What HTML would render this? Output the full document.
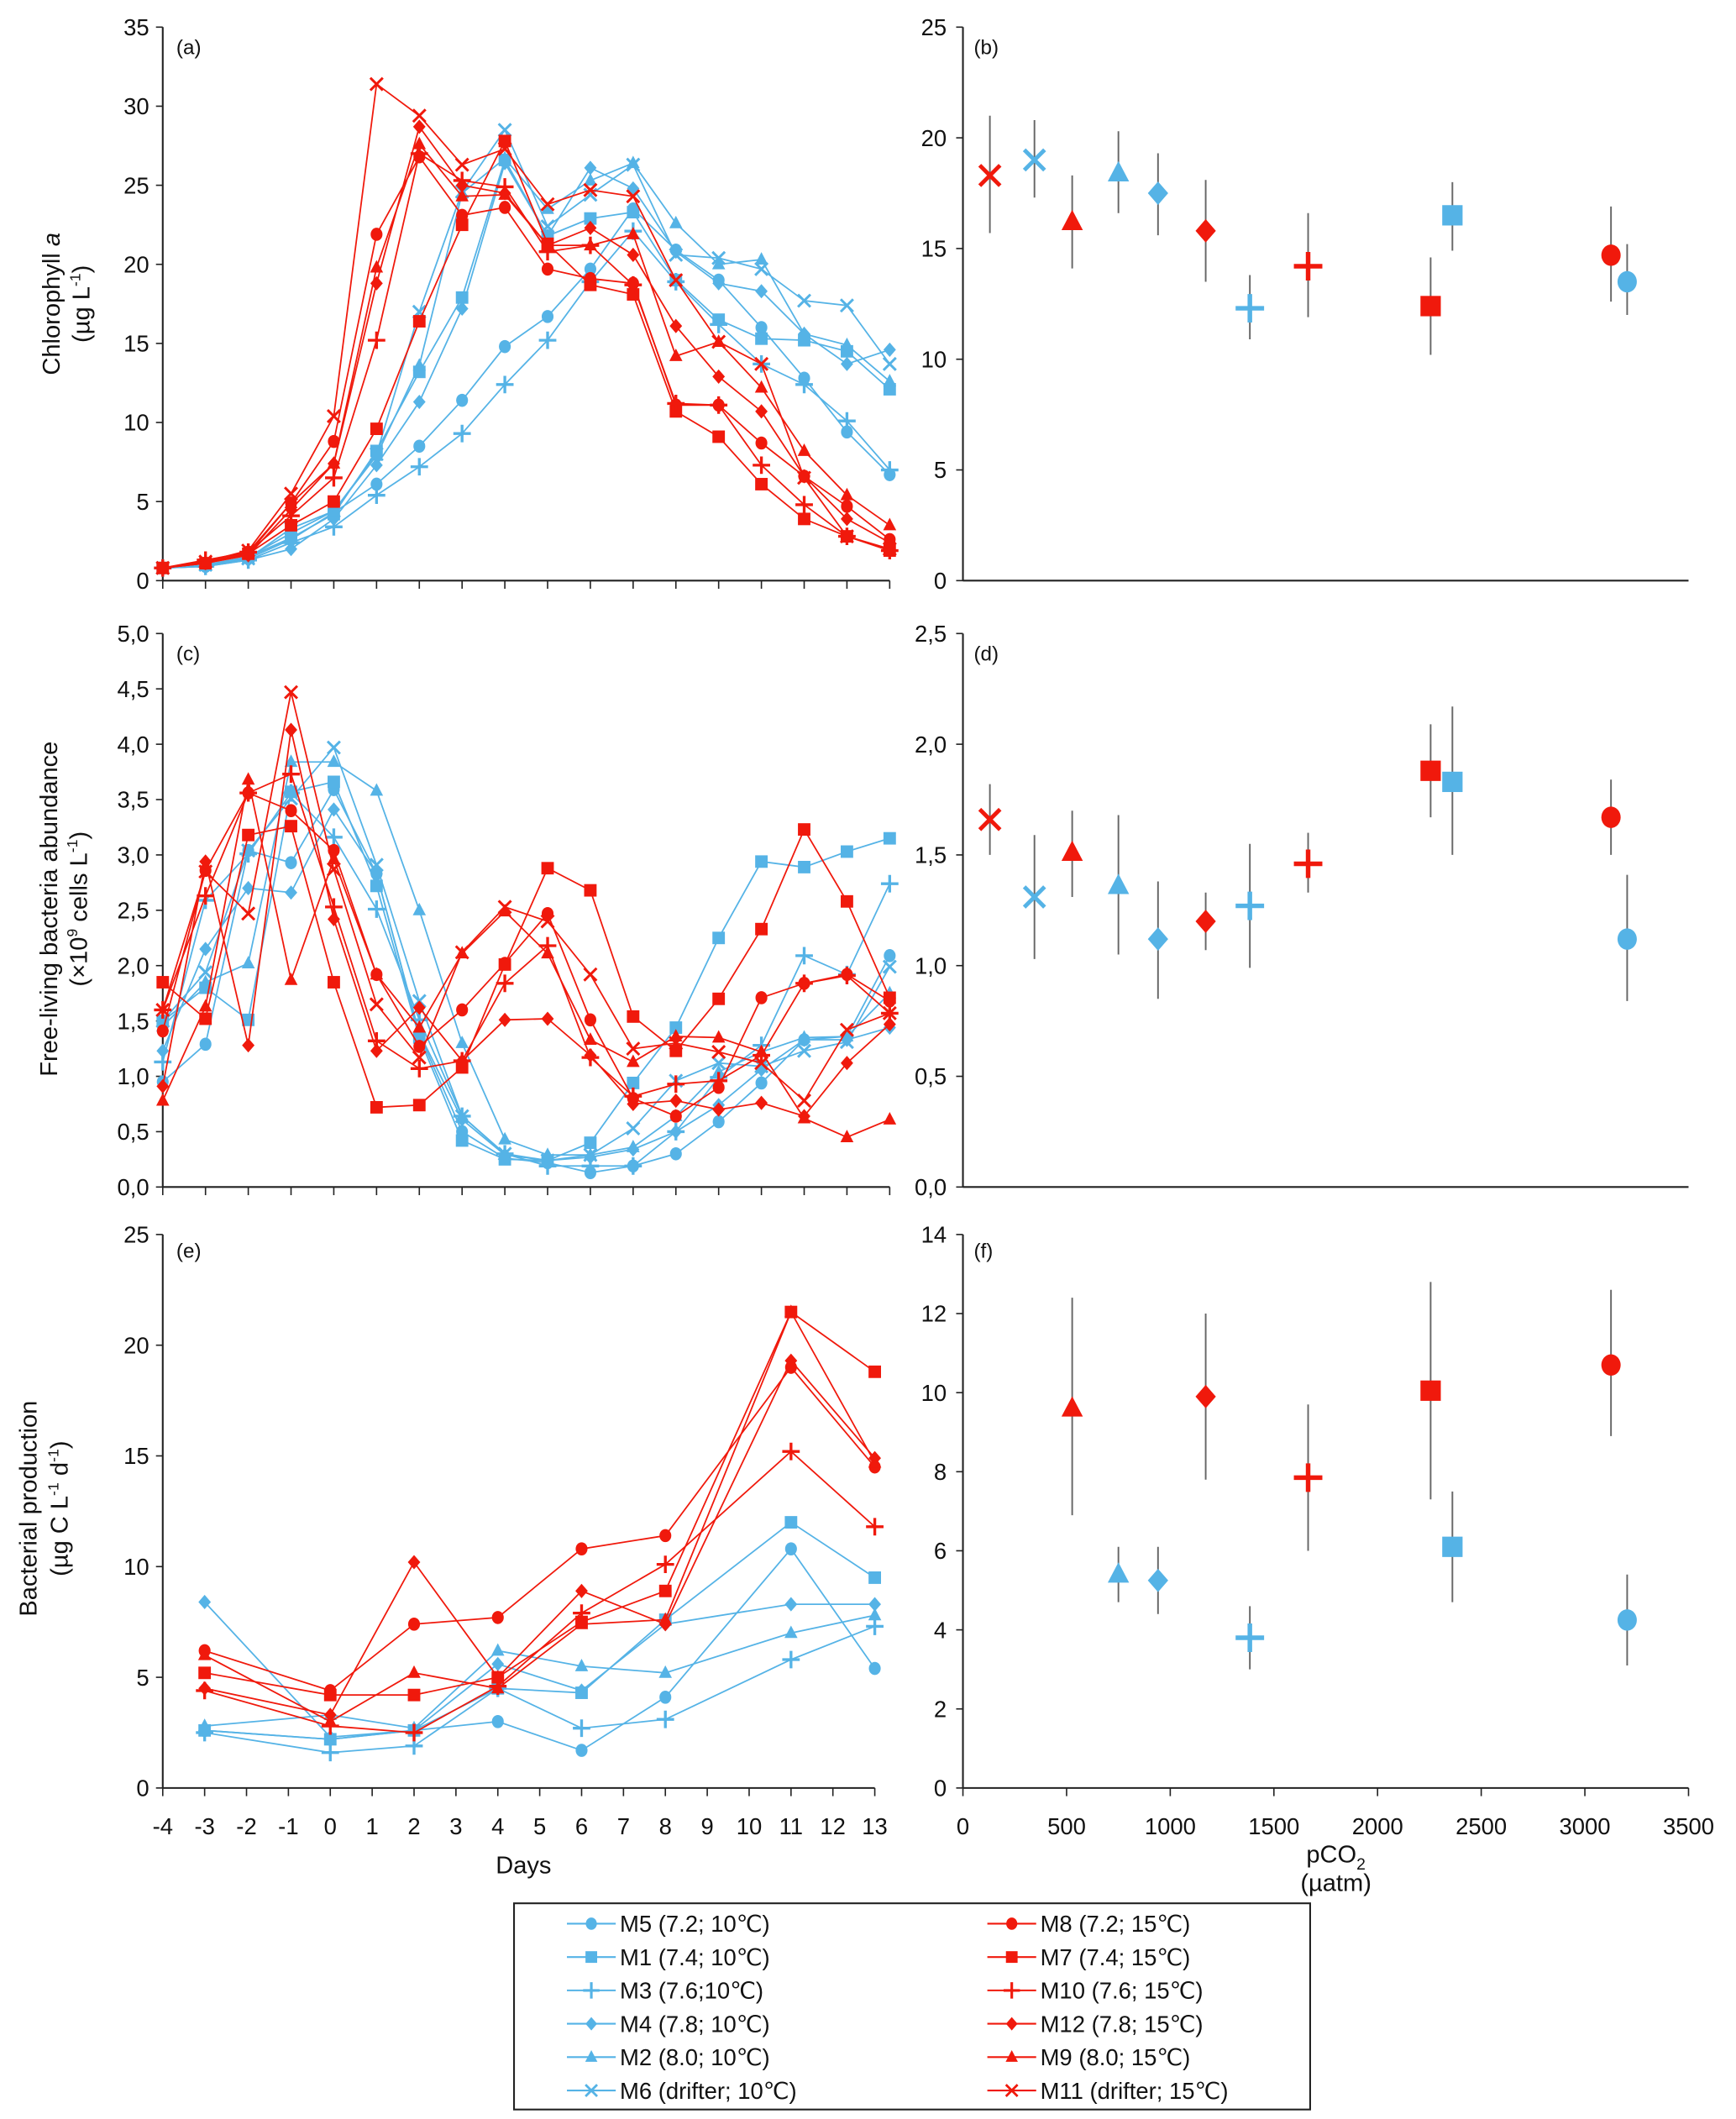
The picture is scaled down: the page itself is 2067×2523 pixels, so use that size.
<!DOCTYPE html>
<html><head><meta charset="utf-8"><style>
html,body{margin:0;padding:0;background:#fff}
svg{display:block}
text{font-family:"Liberation Sans",sans-serif;fill:#111}
</style></head><body>
<svg id="chart" xmlns="http://www.w3.org/2000/svg" width="2067" height="2523" viewBox="0 0 1280 1562" preserveAspectRatio="none">
<g id="root"></g>
</svg>
<script>
// ---------- data ----------
const days = [-4,-3,-2,-1,0,1,2,3,4,5,6,7,8,9,10,11,12,13];
const series = ['M5','M1','M3','M4','M2','M6','M8','M7','M10','M12','M9','M11'];
const labels = ['M5 (7.2; 10\u2103)','M1 (7.4; 10\u2103)','M3 (7.6;10\u2103)','M4 (7.8; 10\u2103)','M2 (8.0; 10\u2103)','M6 (drifter; 10\u2103)','M8 (7.2; 15\u2103)','M7 (7.4; 15\u2103)','M10 (7.6; 15\u2103)','M12 (7.8; 15\u2103)','M9 (8.0; 15\u2103)','M11 (drifter; 15\u2103)'];
// panel a: chlorophyll a
const chlM5 = [0.8,0.9,1.4,2.6,4.3,6.1,8.5,11.4,14.8,16.7,19.7,23.5,20.9,19.0,16.0,12.8,9.4,6.7];
const chlM1 = [0.8,1.0,1.5,2.7,4.2,8.2,13.2,17.9,26.6,21.8,22.9,23.3,19.0,16.5,15.3,15.2,14.5,12.1];
const chlM3 = [0.8,0.9,1.3,2.4,3.4,5.4,7.2,9.3,12.4,15.2,18.9,22.1,18.9,16.2,13.7,12.4,10.1,7.0];
const chlM4 = [0.8,0.9,1.3,2.0,3.9,7.3,11.3,17.2,26.4,21.8,26.1,24.8,20.8,18.8,18.3,15.6,13.7,14.6];
const chlM2 = [0.8,1.0,1.5,3.0,4.4,7.9,13.6,24.5,26.7,23.5,25.3,26.4,22.6,20.0,20.3,15.6,14.9,12.6];
const chlM6 = [0.8,1.0,1.4,3.3,4.4,8.0,17.0,24.6,28.5,22.4,24.4,26.3,20.6,20.4,19.7,17.7,17.4,13.7];
const chlM8 = [0.8,1.1,1.8,4.9,8.8,21.9,26.8,23.1,23.6,19.7,19.1,18.8,11.1,11.1,8.7,6.6,4.7,2.6];
const chlM7 = [0.8,1.1,1.7,3.5,5.0,9.6,16.4,22.5,27.8,21.3,18.7,18.1,10.7,9.1,6.1,3.9,2.8,1.9];
const chlM10 = [0.8,1.3,1.8,4.1,6.5,15.2,27.0,25.3,24.9,20.8,21.2,18.7,11.2,11.1,7.3,4.8,2.8,1.9];
const chlM12 = [0.8,1.1,1.6,4.5,7.4,18.8,28.7,25.0,24.5,21.2,22.3,20.6,16.1,12.9,10.7,6.6,3.9,2.4];
const chlM9 = [0.8,1.2,1.7,4.9,7.4,19.8,27.6,24.3,24.4,21.2,21.2,21.9,14.2,15.1,12.2,8.2,5.4,3.5];
const chlM11 = [0.8,1.2,1.9,5.5,10.4,31.4,29.4,26.3,27.3,23.8,24.7,24.3,19.0,15.1,13.7,6.5,2.8,2.0];
// panel c: bacteria abundance
const fbM5 = [0.95,1.29,3.04,2.93,3.59,2.83,1.38,0.50,0.26,0.22,0.13,0.19,0.30,0.59,0.94,1.33,1.36,2.09];
const fbM1 = [1.50,1.80,1.51,3.57,3.66,2.72,1.35,0.42,0.25,0.24,0.40,0.94,1.44,2.25,2.94,2.89,3.03,3.15];
const fbM3 = [1.13,2.59,3.01,3.56,3.16,2.51,1.51,0.64,0.30,0.19,0.19,0.19,0.50,0.99,1.28,2.09,1.92,2.74];
const fbM4 = [1.23,2.15,2.70,2.66,3.41,2.83,1.39,0.61,0.29,0.24,0.27,0.34,0.50,0.74,1.06,1.33,1.33,1.44];
const fbM2 = [1.45,1.85,2.02,3.84,3.84,3.58,2.50,1.30,0.43,0.29,0.29,0.36,0.64,1.04,1.22,1.35,1.36,1.75];
const fbM6 = [1.50,1.94,3.04,3.51,3.97,2.91,1.68,0.64,0.30,0.24,0.29,0.53,0.96,1.12,1.09,1.23,1.31,1.99];
const fbM8 = [1.41,2.86,3.56,3.40,3.04,1.92,1.27,1.60,2.02,2.47,1.51,0.80,0.64,0.90,1.71,1.84,1.92,1.68];
const fbM7 = [1.85,1.52,3.18,3.26,1.85,0.72,0.74,1.08,2.01,2.88,2.68,1.54,1.23,1.70,2.33,3.23,2.58,1.71];
const fbM10 = [1.60,2.63,3.56,3.73,2.53,1.32,1.07,1.14,1.84,2.18,1.17,0.82,0.93,0.96,1.19,1.84,1.91,1.57];
const fbM12 = [0.91,2.94,1.28,4.13,2.42,1.23,1.62,1.14,1.51,1.52,1.19,0.75,0.78,0.70,0.76,0.64,1.12,1.47];
const fbM9 = [0.78,1.63,3.68,1.87,2.96,1.92,1.44,2.11,2.49,2.11,1.33,1.13,1.36,1.35,1.22,0.62,0.45,0.61];
const fbM11 = [1.60,2.85,2.47,4.47,2.87,1.65,1.17,2.12,2.53,2.40,1.92,1.25,1.30,1.22,1.12,0.78,1.42,1.57];
// panel e: bacterial production
const bpDays = [-3,0,2,4,6,8,11,13];
const bpM5 = [2.6,2.2,2.6,3.0,1.7,4.1,10.8,5.4];
const bpM1 = [2.6,2.2,2.6,4.5,4.3,7.6,12.0,9.5];
const bpM3 = [2.5,1.6,1.9,4.5,2.7,3.1,5.8,7.3];
const bpM4 = [8.4,2.3,2.6,5.6,4.4,7.4,8.3,8.3];
const bpM2 = [2.8,3.3,2.7,6.2,5.5,5.2,7.0,7.8];
const bpM8 = [6.2,4.4,7.4,7.7,10.8,11.4,19.0,14.5];
const bpM7 = [5.2,4.2,4.2,5.0,7.5,8.9,21.5,18.8];
const bpM10 = [4.4,2.8,2.5,4.6,7.9,10.1,15.2,11.8];
const bpM12 = [4.5,3.3,10.2,5.0,8.9,7.4,19.3,14.9];
const bpM9 = [6.0,3.0,5.2,4.5,7.4,7.6,21.5,14.7];
// right panels: pCO2 vs means
const pco2 = {M5:3204,M1:2361,M3:1384,M4:941,M2:750,M6:345,M8:3126,M7:2256,M10:1665,M12:1171,M9:527,M11:130};
const bMean = {M5:13.5,M1:16.5,M3:12.3,M4:17.5,M2:18.4,M6:19.0,M8:14.7,M7:12.4,M10:14.2,M12:15.8,M9:16.2,M11:18.3};
const bLo = {M5:12.0,M1:14.9,M3:10.9,M4:15.6,M2:16.6,M6:17.3,M8:12.6,M7:10.2,M10:11.9,M12:13.5,M9:14.1,M11:15.7};
const bHi = {M5:15.2,M1:18.0,M3:13.8,M4:19.3,M2:20.3,M6:20.8,M8:16.9,M7:14.6,M10:16.6,M12:18.1,M9:18.3,M11:21.0};
const dMean = {M5:1.12,M1:1.83,M3:1.27,M4:1.12,M2:1.36,M6:1.31,M8:1.67,M7:1.88,M10:1.46,M12:1.20,M9:1.51,M11:1.66};
const dLo = {M5:0.84,M1:1.50,M3:0.99,M4:0.85,M2:1.05,M6:1.03,M8:1.50,M7:1.67,M10:1.33,M12:1.07,M9:1.31,M11:1.50};
const dHi = {M5:1.41,M1:2.17,M3:1.55,M4:1.38,M2:1.68,M6:1.59,M8:1.84,M7:2.09,M10:1.60,M12:1.33,M9:1.70,M11:1.82};
const fMean = {M5:4.25,M1:6.1,M3:3.8,M4:5.25,M2:5.4,M8:10.7,M7:10.05,M10:7.85,M12:9.9,M9:9.6};
const fLo = {M5:3.1,M1:4.7,M3:3.0,M4:4.4,M2:4.7,M8:8.9,M7:7.3,M10:6.0,M12:7.8,M9:6.9};
const fHi = {M5:5.4,M1:7.5,M3:4.6,M4:6.1,M2:6.1,M8:12.6,M7:12.8,M10:9.7,M12:12.0,M9:12.4};
const yTicksA = ['0','5','10','15','20','25','30','35'];
const yTicksB = ['0','5','10','15','20','25'];
const yTicksC = ['0,0','0,5','1,0','1,5','2,0','2,5','3,0','3,5','4,0','4,5','5,0'];
const yTicksD = ['0,0','0,5','1,0','1,5','2,0','2,5'];
const yTicksE = ['0','5','10','15','20','25'];
const yTicksF = ['0','2','4','6','8','10','12','14'];
const xTicksP = ['0','500','1000','1500','2000','2500','3000','3500'];

// ---------- drawing ----------
const NS='http://www.w3.org/2000/svg';
const root=document.getElementById('root');
const BLUE='#55b3e6', RED='#f0190c';
const shapeOf={M5:'circle',M1:'square',M3:'plus',M4:'diamond',M2:'triangle',M6:'x',M8:'circle',M7:'square',M10:'plus',M12:'diamond',M9:'triangle',M11:'x'};
const colorOf=s=>['M5','M1','M3','M4','M2','M6'].includes(s)?BLUE:RED;
function el(tag,attrs,parent){const e=document.createElementNS(NS,tag);for(const k in attrs)e.setAttribute(k,attrs[k]);(parent||root).appendChild(e);return e;}
function txt(x,y,s,attrs,parent){const t=el('text',Object.assign({x:x,y:y},attrs||{}),parent);t.textContent=s;return t;}
function marker(g,shape,x,y,r,c){
  let m;
  if(shape==='circle') m=el('ellipse',{cx:x,cy:y,rx:r*0.95,ry:r*1.05,fill:c},g);
  else if(shape==='square') m=el('rect',{x:x-r,y:y-r,width:2*r,height:2*r,fill:c},g);
  else if(shape==='diamond') m=el('polygon',{points:`${x},${y-r*1.15} ${x+r},${y} ${x},${y+r*1.15} ${x-r},${y}`,fill:c},g);
  else if(shape==='triangle') m=el('polygon',{points:`${x},${y-r*1.2} ${x+r*1.05},${y+r*0.8} ${x-r*1.05},${y+r*0.8}`,fill:c},g);
  else if(shape==='plus') m=el('path',{d:`M${x-r*1.4},${y}H${x+r*1.4}M${x},${y-r*1.4}V${y+r*1.4}`,stroke:c,'stroke-width':r*0.45,fill:'none'},g);
  else m=el('path',{d:`M${x-r},${y-r}L${x+r},${y+r}M${x-r},${y+r}L${x+r},${y-r}`,stroke:c,'stroke-width':r*0.4,fill:'none'},g);
  
  
  return m;
}
function axes(name,x0,x1,y0,y1,ticks,yMax,labelX,hasXTicks,nX){
  const g=el('g',{});
  
  
  el('line',{x1:x0,y1:y0,x2:x0,y2:y1,stroke:'#222','stroke-width':1.3},g);
  el('line',{x1:x0,y1:y1,x2:x1,y2:y1,stroke:'#222','stroke-width':1.3},g);
  ticks.forEach((t,i)=>{const y=y1-(y1-y0)*i/(ticks.length-1);
    el('line',{x1:x0-5,y1:y,x2:x0,y2:y,stroke:'#222','stroke-width':1},g);
    const lt=txt(labelX,y+6,t,{'text-anchor':'end','font-size':17},g);
    
    
  });
  if(hasXTicks){for(let i=0;i<=nX;i++){const x=x0+(x1-x0)*i/nX;el('line',{x1:x,y1:y1,x2:x,y2:y1+6,stroke:'#222','stroke-width':1},g);}}
  return g;
}
// left panels
const L0=120;
function xL(d,x1){return L0+(d-days[0])*(x1-L0)/(days[days.length-1]-days[0]);}
function lineSeries(name,xs,vals,x1,y0,y1,yMax,shape,c,r){
  const g=el('g',{});
  
  
  const yy=v=>y1-(y1-y0)*v/yMax;
  el('polyline',{points:vals.map((v,i)=>xL(xs[i],x1)+','+yy(v)).join(' '),fill:'none',stroke:c,'stroke-width':1.1},g);
  vals.forEach((v,i)=>marker(g,shape,xL(xs[i],x1),yy(v),r,c));
}
axes('panel-a',120,656,20,428,yTicksA,35,110,true,17);
axes('panel-c',120,656,467,875,yTicksC,5,110,true,17);
axes('panel-e',120,645,910,1318,yTicksE,25,110,true,17);
const chl={M5:chlM5,M1:chlM1,M3:chlM3,M4:chlM4,M2:chlM2,M6:chlM6,M8:chlM8,M7:chlM7,M10:chlM10,M12:chlM12,M9:chlM9,M11:chlM11};
const fb={M5:fbM5,M1:fbM1,M3:fbM3,M4:fbM4,M2:fbM2,M6:fbM6,M8:fbM8,M7:fbM7,M10:fbM10,M12:fbM12,M9:fbM9,M11:fbM11};
const bp={M5:bpM5,M1:bpM1,M3:bpM3,M4:bpM4,M2:bpM2,M8:bpM8,M7:bpM7,M10:bpM10,M12:bpM12,M9:bpM9};
series.forEach(s=>lineSeries('chl-line-'+s.toLowerCase(),days,chl[s],656,20,428,35,shapeOf[s],colorOf(s),4.6));
series.forEach(s=>lineSeries('bact-line-'+s.toLowerCase(),days,fb[s],656,467,875,5,shapeOf[s],colorOf(s),4.6));
series.filter(s=>bp[s]).forEach(s=>lineSeries('bp-line-'+s.toLowerCase(),bpDays,bp[s],645,910,1318,25,shapeOf[s],colorOf(s),4.6));
days.forEach(d=>{const t=txt(xL(d,645),1352,String(d),{'text-anchor':'middle','font-size':17});
  
  });
// right panels
const R0=710,R1=1245;
const xR=p=>R0+p*(R1-R0)/3500;
axes('panel-b',R0,R1,20,428,yTicksB,25,698,false,7);
axes('panel-d',R0,R1,467,875,yTicksD,2.5,698,false,7);
axes('panel-f',R0,R1,910,1318,yTicksF,14,698,true,7);
xTicksP.forEach((t,i)=>{const l=txt(R0+(R1-R0)*i/7,1352,t,{'text-anchor':'middle','font-size':17});
  
  });
function scatter(name,mean,lo,hi,y0,y1,yMax){
  const yy=v=>y1-(y1-y0)*v/yMax;
  Object.keys(mean).forEach(s=>{
    const g=el('g',{});
    
    
    const x=xR(pco2[s]);
    el('line',{x1:x,y1:yy(lo[s]),x2:x,y2:yy(hi[s]),stroke:'#666','stroke-width':1.2},g);
    marker(g,shapeOf[s],x,yy(mean[s]),7.5,colorOf(s));
  });
}
scatter('chl-mean',bMean,bLo,bHi,20,428,25);
scatter('bact-mean',dMean,dLo,dHi,467,875,2.5);
scatter('bp-mean',fMean,fLo,fHi,910,1318,14);
</script>
<svg width="0" height="0" style="position:absolute"></svg>
<script>
// static labels
(function(){
const NS='http://www.w3.org/2000/svg';const svg=document.getElementById('chart');
function t(x,y,html,attrs,name){const e=document.createElementNS(NS,'text');e.setAttribute('x',x);e.setAttribute('y',y);for(const k in attrs)e.setAttribute(k,attrs[k]);e.innerHTML=html;


svg.appendChild(e);return e;}
t(130,40,'(a)',{'font-size':15},'panel-label-a');
t(718,40,'(b)',{'font-size':15},'panel-label-b');
t(130,487,'(c)',{'font-size':15},'panel-label-c');
t(718,487,'(d)',{'font-size':15},'panel-label-d');
t(130,927,'(e)',{'font-size':15},'panel-label-e');
t(718,927,'(f)',{'font-size':15},'panel-label-f');
t(0,0,'Chlorophyll <tspan font-style="italic">a</tspan>',{'font-size':18,'text-anchor':'middle',transform:'translate(44,224) rotate(-90)'},'y-axis-title-chl');
t(0,0,'(µg L<tspan font-size="11" dy="-7">-1</tspan><tspan dy="7">)</tspan>',{'font-size':18,'text-anchor':'middle',transform:'translate(66,224) rotate(-90)'},'y-axis-unit-chl');
t(0,0,'Free-living bacteria abundance',{'font-size':18,'text-anchor':'middle',transform:'translate(42,670) rotate(-90)'},'y-axis-title-bact');
t(0,0,'(×10<tspan font-size="11" dy="-7">9</tspan><tspan dy="7"> cells L</tspan><tspan font-size="11" dy="-7">-1</tspan><tspan dy="7">)</tspan>',{'font-size':18,'text-anchor':'middle',transform:'translate(64,670) rotate(-90)'},'y-axis-unit-bact');
t(0,0,'Bacterial production',{'font-size':18,'text-anchor':'middle',transform:'translate(27,1112) rotate(-90)'},'y-axis-title-bp');
t(0,0,'(µg C L<tspan font-size="11" dy="-7">-1</tspan><tspan dy="7"> d</tspan><tspan font-size="11" dy="-7">-1</tspan><tspan dy="7">)</tspan>',{'font-size':18,'text-anchor':'middle',transform:'translate(50,1112) rotate(-90)'},'y-axis-unit-bp');
t(386,1381,'Days',{'font-size':18,'text-anchor':'middle'},'x-axis-title-days');
t(985,1373,'pCO<tspan font-size="12" dy="5">2</tspan>',{'font-size':18,'text-anchor':'middle'},'x-axis-title-pco2');
t(985,1394,'(µatm)',{'font-size':18,'text-anchor':'middle'},'x-axis-unit-pco2');
})();
</script>
<script>
// legend
(function(){
const NS='http://www.w3.org/2000/svg';const svg=document.getElementById('chart');
const g=document.createElementNS(NS,'g');svg.appendChild(g);


const r=document.createElementNS(NS,'rect');
r.setAttribute('x',379);r.setAttribute('y',1403);r.setAttribute('width',587);r.setAttribute('height',152);
r.setAttribute('fill','#fff');r.setAttribute('stroke','#222');r.setAttribute('stroke-width',1.3);g.appendChild(r);
series.forEach((s,i)=>{
  const col=i<6?0:1,row=i%6;
  const lx=col?728:418, y=1418+row*24.6, c=colorOf(s);
  const e=document.createElementNS(NS,'g');g.appendChild(e);
  
  
  const ln=document.createElementNS(NS,'line');ln.setAttribute('x1',lx);ln.setAttribute('x2',lx+36);ln.setAttribute('y1',y);ln.setAttribute('y2',y);ln.setAttribute('stroke',c);ln.setAttribute('stroke-width',1.3);e.appendChild(ln);
  marker(e,shapeOf[s],lx+18,y,4.3,c);
  const tx=document.createElementNS(NS,'text');tx.setAttribute('x',lx+39);tx.setAttribute('y',y+6);tx.setAttribute('font-size',17);tx.textContent=labels[i];e.appendChild(tx);
});
})();
</script>
</body></html>
